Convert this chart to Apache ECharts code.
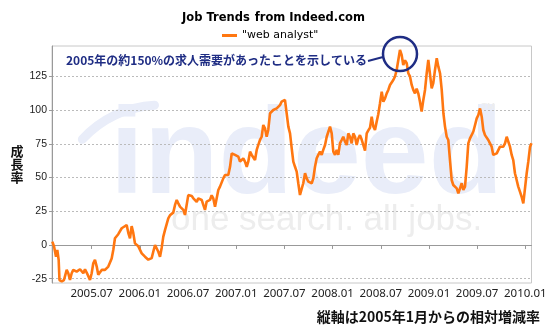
<!DOCTYPE html>
<html><head><meta charset="utf-8">
<script src="https://cdn.jsdelivr.net/npm/echarts@6/dist/echarts.min.js"></script>
<style>html,body{margin:0;padding:0;background:#fff}#c{width:560px;height:327px}</style>
</head><body><div id="c"></div>
<script>
// months since 2005-01 (0 = Jan 2005)
const months = [1.10,1.31,1.56,1.72,1.89,1.99,2.27,2.55,2.89,3.09,3.30,3.51,3.71,4.13,4.55,4.96,5.17,5.50,5.79,6.00,6.20,6.41,6.63,6.82,7.25,7.66,8.07,8.49,8.69,8.90,9.31,9.74,9.94,10.36,10.56,10.77,10.98,11.18,11.39,11.81,12.23,12.64,13.05,13.47,13.67,13.89,14.10,14.30,14.51,14.72,14.92,15.13,15.54,15.75,15.97,16.16,16.38,16.59,16.79,17.00,17.21,17.41,17.62,17.83,18.03,18.24,18.46,18.66,18.87,19.08,19.28,19.49,19.70,19.90,20.11,20.32,20.52,20.73,20.94,21.14,21.36,21.57,21.77,21.98,22.19,22.39,22.60,22.81,23.01,23.23,23.44,23.64,23.85,24.06,24.26,24.47,24.68,24.88,25.09,25.31,25.50,25.72,25.93,26.13,26.34,26.55,26.75,26.96,27.17,27.37,27.58,27.79,27.99,28.21,28.42,28.62,28.83,29.04,29.24,29.45,29.66,29.86,30.07,30.28,30.49,30.70,30.91,31.11,31.32,31.53,31.73,31.94,32.15,32.35,32.57,32.78,32.98,33.19,33.40,33.60,33.81,34.02,34.22,34.43,34.64,34.84,35.06,35.27,35.47,35.68,35.89,36.09,36.30,36.51,36.71,36.92,37.13,37.33,37.55,37.76,37.96,38.17,38.38,38.58,38.79,39.00,39.20,39.41,39.63,39.83,40.04,40.25,40.45,40.66,40.87,41.07,41.28,41.49,41.69,41.90,42.12,42.32,42.53,42.74,42.94,43.15,43.36,43.56,43.77,43.98,44.18,44.39,44.60,44.80,45.02,45.23,45.43,45.64,45.85,46.05,46.26,46.47,46.67,46.88,47.09,47.30,47.51,47.72,47.92,48.13,48.34,48.54,48.75,48.97,49.17,49.38,49.59,49.80,50.00,50.21,50.41,50.62,50.83,51.03,51.25,51.46,51.66,51.87,52.08,52.28,52.49,52.70,52.90,53.11,53.32,53.52,53.74,53.95,54.15,54.36,54.57,54.77,54.98,55.19,55.39,55.60,55.81,56.01,56.23,56.44,56.64,56.85,57.06,57.26,57.47,57.68,57.88,58.09,58.30,58.50,58.71,58.92,59.12,59.33,59.54,59.75,59.96,60.17,60.37,60.59,60.77];
const values = [2.5,-1,-8.7,-3.7,-11,-26,-27,-26,-18.5,-21,-26,-21,-18.5,-19.8,-18,-21,-18,-22,-26,-21,-13.6,-11,-16,-22,-18.5,-18.5,-16,-10,-3.7,5,8,12.4,11,14.8,9,4.9,14,9,1.2,-1,-6.2,-8.7,-10.9,-9.7,-5,0,1.2,-5,-8.7,-2,6.2,11,19.8,22,23,24,29.7,33.4,30.9,28.4,27,26,22.3,23.5,37,35.8,36.3,34.6,35.8,32,34.6,33.4,33.4,29.7,26,32.2,30.9,33.4,36.9,34.6,28.4,27,40.8,43.3,44.5,49.4,51.9,50.7,51.9,58,68,69.2,66.8,66.8,65.5,61.8,60.5,64.3,61.8,58,61.8,69.2,66.8,68,63,70.5,74.2,77.9,80.3,89,86.5,80.3,85.3,97.7,99,100.1,99,101.3,102.6,103.8,106.3,105,107.6,97.7,87.8,82.8,71.7,61.8,58,54.4,45.8,37.1,38.3,45.8,53.2,49.4,47,45.8,45.8,49.4,58,64.3,66.8,69.2,66.8,70.5,74.2,80.3,84,87.8,82.8,69.2,66.8,70.5,66.8,75.4,77.9,80.3,76.6,74.2,82.8,80.3,75.4,82.8,80.3,74.2,79,81.5,78,77,70,82.8,85,87,95.2,88,85.3,91.5,97,105,113.7,106.3,108.8,112.5,115,118.7,120,122.4,125,129.8,137,144.7,141,133.5,137,134.8,127.4,125,118.7,115,112.5,116,112.5,106.3,98.9,107.6,115,127.4,137.3,138.5,116.2,120,129.8,138.5,132.3,127.4,115,97.7,87.8,80.3,77.9,63,48.2,44.5,43.3,42,38.3,37.1,45.8,40.8,43.3,58,75.4,79.1,80.3,84,89,93.9,96.4,101.3,95.2,85.3,81.5,82.8,77.9,75.4,72.9,66.8,65.5,68,69.2,72.9,74.2,72.9,75.4,80.3,79.1,72.9,66.8,63,53.2,48.2,43.3,39.6,35.8,30.9,42,53.2,61.8,72.9,75.4];
const xTickMonths = [6,12,18,24,30,36,42,48,54,60];
const xTickLabels = ['2005.07','2006.01','2006.07','2007.01','2007.07','2008.01','2008.07','2009.01','2009.07','2010.01'];
const yTicks = [-25,0,25,50,75,100,125];
const seriesName = '"web analyst"';
const titleBold = 'Job Trends';
const titleRest = 'from Indeed.com';
const noteText = '2005年の約150%の求人需要があったことを示している';
const yName = '成\n長\n率';
const caption = '縦軸は2005年1月からの相対増減率';

const n = Math.min(months.length, values.length);
const data = [];
for (let i = 0; i < n; i++) data.push([months[i], values[i]]);

const chart = echarts.init(document.getElementById('c'), null, {renderer: 'canvas'});
const navy = '#1f2d84';
const wmBlue = '#e9edf9';
const wmGray = '#ededed';
const option = {
  animation: false,
  title: {
    text: '{b|' + titleBold + '} {n|' + titleRest + '}',
    left: 177, top: 4,
    textStyle: { rich: {
      b: {fontFamily: 'DejaVu Sans', fontWeight: 'bold', fontSize: 11.5, color: '#000'},
      n: {fontFamily: 'DejaVu Sans', fontSize: 11.5, color: '#000'}
    }}
  },
  legend: {
    left: 217, top: 25, icon: 'rect', itemWidth: 15, itemHeight: 3,
    textStyle: {fontFamily: 'DejaVu Sans', fontSize: 11, color: '#000'},
    data: [seriesName]
  },
  grid: {left: 52, right: 28.5, top: 46, bottom: 44, show: true, borderColor: '#c8c8c8', borderWidth: 1},
  xAxis: {
    type: 'value', min: 1.06, max: 60.77,
    axisLine: {show: true, lineStyle: {color: '#999'}},
    axisTick: {show: true, customValues: xTickMonths, length: 4, lineStyle: {color: '#999'}},
    axisLabel: {customValues: xTickMonths, formatter: v => xTickLabels[xTickMonths.indexOf(v)] || '',
      fontFamily: 'Noto Sans', fontSize: 11.5, color: '#222', margin: 5},
    splitLine: {show: false}
  },
  yAxis: {
    type: 'value', min: -28.2, max: 147.6,
    axisLine: {show: true, lineStyle: {color: '#999'}},
    axisTick: {show: true, customValues: yTicks, length: 3, lineStyle: {color: '#999'}},
    axisLabel: {customValues: yTicks, fontFamily: 'Liberation Sans', fontSize: 10.5, color: '#222', margin: 5},
    splitLine: {show: true, lineStyle: {color: '#bbb', type: [2, 2], width: 1}}
  },
  series: [{
    name: seriesName, type: 'line', data: data, showSymbol: false, z: 5,
    lineStyle: {color: '#ff7711', width: 2.6}, itemStyle: {color: '#ff7711'}
  }],
  graphic: [
    {type: 'arc', z: -10, silent: true, shape: {cx: 160, cy: 210, r: 105, startAngle: 3.88, endAngle: 4.66, clockwise: true},
      style: {stroke: wmBlue, lineWidth: 9, fill: null, lineCap: 'round'}},
    {type: 'text', z: -10, silent: true, style: {text: 'indeed', x: 110, y: 159, font: 'bold 122px "Liberation Sans"', fill: wmBlue, verticalAlign: 'middle'}},
    {type: 'text', z: -10, silent: true, style: {text: '™', x: 480, y: 110, font: '16px "Liberation Sans"', fill: wmGray, verticalAlign: 'middle'}},
    {type: 'text', z: -10, silent: true, style: {text: 'one search. all jobs.', x: 171, y: 220, font: '35px "Liberation Sans"', fill: wmGray, verticalAlign: 'middle'}},
    {type: 'text', z: 20, style: {text: noteText, x: 66, y: 60, font: 'bold 12px "Noto Sans CJK JP"', fill: navy, verticalAlign: 'middle'}},
    {type: 'line', z: 20, shape: {x1: 368, y1: 61, x2: 383, y2: 57}, style: {stroke: navy, lineWidth: 2}},
    {type: 'circle', z: 20, shape: {cx: 400, cy: 54, r: 17}, style: {stroke: navy, lineWidth: 2.5, fill: null}},
    {type: 'text', z: 20, style: {text: yName, x: 17, y: 164, font: 'bold 13px "Noto Sans CJK JP"', fill: '#111', align: 'center', verticalAlign: 'middle', lineHeight: 13}},
    {type: 'text', z: 20, style: {text: caption, x: 540, y: 317, font: 'bold 14px "Noto Sans CJK JP"', fill: '#111', align: 'right', verticalAlign: 'middle'}}
  ]
};
chart.setOption(option);
</script>
</body></html>
